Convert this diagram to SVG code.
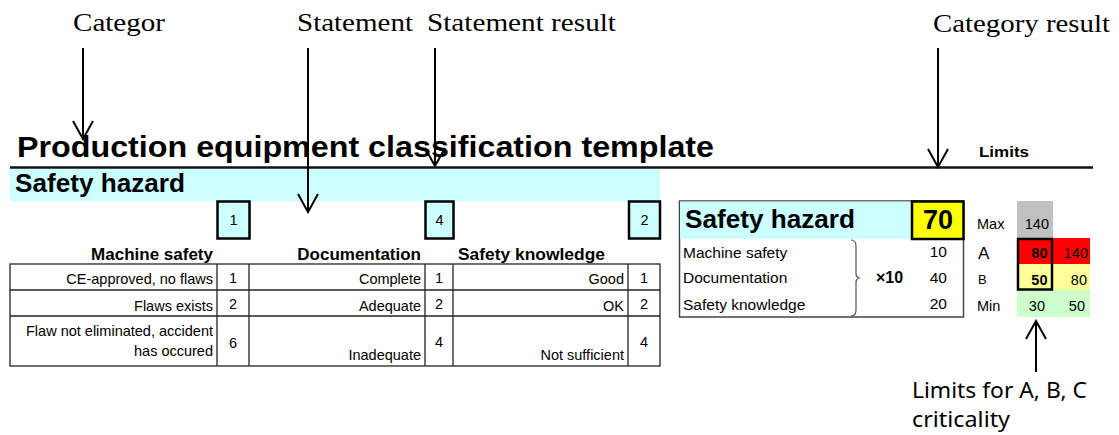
<svg xmlns="http://www.w3.org/2000/svg" width="1119" height="435" viewBox="0 0 1119 435">
<defs>
<marker id="arr" viewBox="0 0 22 22" refX="20" refY="11" markerWidth="22" markerHeight="22" orient="auto" markerUnits="userSpaceOnUse">
<path d="M2,1 L20,11 L2,21" fill="none" stroke="#000" stroke-width="2"/>
</marker>
<style>
.lbl{font-family:"Liberation Serif",serif;font-size:26px;fill:#000}
.note{font-family:"Noto Sans","Open Sans",sans-serif;font-size:21px;fill:#000}
.a{font-family:"Liberation Sans",Arial,sans-serif;fill:#000}
.b{font-family:"Liberation Sans",Arial,sans-serif;font-weight:bold;fill:#000}
.t{font-size:14.5px}
.r{text-anchor:end}
.m{text-anchor:middle}
.cell{fill:none;stroke:#222;stroke-width:1.3}
.box{fill:#ccffff;stroke:#000;stroke-width:2.5}
.conn{stroke:#000;stroke-width:2;fill:none;marker-end:url(#arr)}
</style>
</defs>
<rect width="1119" height="435" fill="#fff"/>

<g id="labels">
<text class="lbl" x="73" y="31" textLength="92" lengthAdjust="spacingAndGlyphs">Categor</text>
<text class="lbl" x="297" y="31" textLength="116" lengthAdjust="spacingAndGlyphs">Statement</text>
<text class="lbl" x="427" y="31" textLength="189" lengthAdjust="spacingAndGlyphs">Statement result</text>
<text class="lbl" x="933" y="32" textLength="177" lengthAdjust="spacingAndGlyphs">Category result</text>
<text class="note" x="912" y="398" textLength="175" lengthAdjust="spacingAndGlyphs">Limits for A, B, C</text>
<text class="note" x="912" y="427" textLength="98" lengthAdjust="spacingAndGlyphs">criticality</text>
</g>

<g id="title">
<text class="b" x="17" y="157" font-size="29" textLength="697" lengthAdjust="spacingAndGlyphs">Production equipment classification template</text>
<text class="b" x="979" y="157" font-size="15.5" textLength="50" lengthAdjust="spacingAndGlyphs">Limits</text>
<line x1="10" y1="167.5" x2="1093" y2="167.5" stroke="#111" stroke-width="2.5"/>
</g>

<g id="category-band">
<rect x="10" y="169" width="650" height="32" fill="#ccffff"/>
<text class="b" x="15" y="192" font-size="25" textLength="170" lengthAdjust="spacingAndGlyphs">Safety hazard</text>
</g>

<g id="statement-results">
<rect class="box" x="217.5" y="201.5" width="32" height="37"/>
<text class="a m" x="233.5" y="225" font-size="14.5">1</text>
<rect class="box" x="425.5" y="201.5" width="28" height="37"/>
<text class="a m" x="439.5" y="225" font-size="14.5">4</text>
<rect class="box" x="629" y="201.5" width="31" height="37"/>
<text class="a m" x="644.5" y="225" font-size="14.5">2</text>
</g>

<g id="statement-table">
<text class="b r" x="213" y="260" font-size="17">Machine safety</text>
<text class="b r" x="421" y="260" font-size="17">Documentation</text>
<text class="b" x="458" y="260" font-size="17" textLength="147" lengthAdjust="spacingAndGlyphs">Safety knowledge</text>
<rect class="cell" x="10" y="264" width="650" height="102"/>
<line class="cell" x1="10" y1="290" x2="660" y2="290"/>
<line class="cell" x1="10" y1="316" x2="660" y2="316" stroke-width="1.6"/>
<line class="cell" x1="217" y1="264" x2="217" y2="366"/>
<line class="cell" x1="249" y1="264" x2="249" y2="366"/>
<line class="cell" x1="425" y1="264" x2="425" y2="366"/>
<line class="cell" x1="453" y1="264" x2="453" y2="366"/>
<line class="cell" x1="628" y1="264" x2="628" y2="366"/>
<text class="a t r" x="213" y="284">CE-approved, no flaws</text>
<text class="a t m" x="233" y="283">1</text>
<text class="a t r" x="213" y="311">Flaws exists</text>
<text class="a t m" x="233" y="309">2</text>
<text class="a t r" x="213" y="336">Flaw not eliminated, accident</text>
<text class="a t r" x="213" y="356">has occured</text>
<text class="a t m" x="233" y="348">6</text>
<text class="a t r" x="421" y="284">Complete</text>
<text class="a t m" x="439" y="283">1</text>
<text class="a t r" x="421" y="311">Adequate</text>
<text class="a t m" x="439" y="309">2</text>
<text class="a t r" x="421" y="360">Inadequate</text>
<text class="a t m" x="439" y="347">4</text>
<text class="a t r" x="624" y="284">Good</text>
<text class="a t m" x="644" y="283">1</text>
<text class="a t r" x="624" y="311">OK</text>
<text class="a t m" x="644" y="309">2</text>
<text class="a t r" x="624" y="360">Not sufficient</text>
<text class="a t m" x="644" y="347">4</text>
</g>

<g id="category-result">
<rect x="679.5" y="201" width="284" height="116" fill="#fff" stroke="#444" stroke-width="1.5"/>
<rect x="680" y="201.5" width="232" height="37.5" fill="#ccffff"/>
<text class="b" x="685" y="228" font-size="25" textLength="170" lengthAdjust="spacingAndGlyphs">Safety hazard</text>
<rect x="912" y="201.5" width="51.5" height="37.5" fill="#ffff00" stroke="#000" stroke-width="2.5"/>
<text class="b m" x="938" y="229" font-size="27">70</text>
<text class="a" x="683" y="258" font-size="15.5">Machine safety</text>
<text class="a" x="683" y="283" font-size="15.5">Documentation</text>
<text class="a" x="683" y="310" font-size="15.5">Safety knowledge</text>
<path d="M851,240 q5,0 5,6 v28 q0,3 3,4 q-3,1 -3,4 v28 q0,6 -5,6" fill="none" stroke="#555" stroke-width="1.2"/>
<text class="b" x="876" y="283" font-size="16">×10</text>
<text class="a r" x="947" y="257" font-size="15.5">10</text>
<text class="a r" x="947" y="283" font-size="15.5">40</text>
<text class="a r" x="947" y="309" font-size="15.5">20</text>
</g>

<g id="limits">
<rect x="1017" y="201" width="36" height="37" fill="#c0c0c0"/>
<rect x="1017" y="238" width="73" height="26" fill="#ff0000"/>
<rect x="1017" y="264" width="73" height="26" fill="#ffff99"/>
<rect x="1017" y="290" width="73" height="27" fill="#ccffcc"/>
<rect x="1018" y="239" width="34" height="50.5" fill="none" stroke="#000" stroke-width="2.5"/>
<text class="a" x="977" y="229" font-size="14.5">Max</text>
<text class="a" x="978" y="259" font-size="17">A</text>
<text class="a" x="978" y="284" font-size="13">B</text>
<text class="a" x="977" y="311" font-size="14.5">Min</text>
<text class="a r" x="1049" y="229" font-size="14.5">140</text>
<text class="b r" x="1047.5" y="258" font-size="14.5">80</text>
<text class="a r" x="1088" y="258" font-size="14.5">140</text>
<text class="b r" x="1047.5" y="285" font-size="14.5">50</text>
<text class="a r" x="1087" y="285" font-size="14.5">80</text>
<text class="a r" x="1045" y="311" font-size="14.5">30</text>
<text class="a r" x="1085" y="311" font-size="14.5">50</text>
</g>

<g id="connectors">
<line class="conn" x1="83" y1="48" x2="83" y2="139"/>
<line class="conn" x1="308" y1="48" x2="308" y2="212"/>
<line class="conn" x1="435" y1="48" x2="435" y2="166"/>
<line class="conn" x1="938" y1="48" x2="938" y2="167"/>
<line class="conn" x1="1036" y1="372" x2="1036" y2="321"/>
</g>
</svg>
